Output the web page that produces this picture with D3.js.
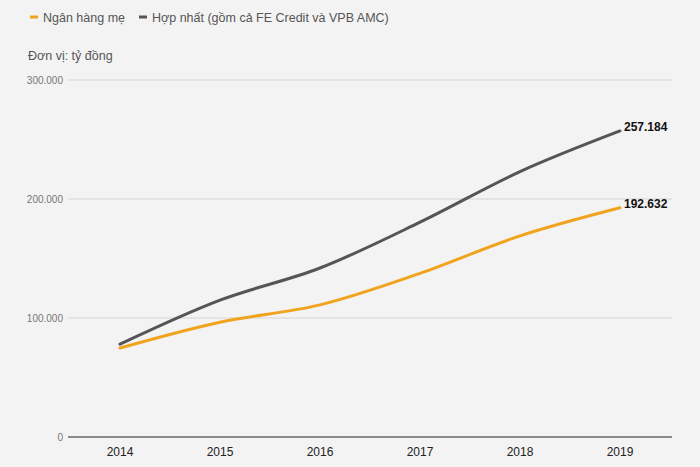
<!DOCTYPE html>
<html>
<head>
<meta charset="utf-8">
<script src="https://cdn.jsdelivr.net/npm/d3@7"></script>
<style>
  body { margin: 0; background: #f3f3f3; }
  svg { display: block; font-family: "Liberation Sans", Arial, sans-serif; }
</style>
</head>
<body>
<svg width="700" height="467"></svg>
<script>
// Dữ liệu
const years = ["2014", "2015", "2016", "2017", "2018", "2019"];
const nganHangMe = [74800, 96500, 111000, 137500, 169000, 192632];
const hopNhat = [78000, 115000, 142000, 180500, 223000, 257184];
const yTicks = [0, 100000, 200000, 300000];
const seriesNames = ["Ngân hàng mẹ", "Hợp nhất (gồm cả FE Credit và VPB AMC)"];
const colors = ["#f0a41e", "#555555"];

const svg = d3.select("svg");

const x = d3.scalePoint()
    .domain(years)
    .range([68, 672])
    .padding(0.52);

const y = d3.scaleLinear()
    .domain([0, 300000])
    .range([437, 80]);

const fmt = v => d3.format(",")(v).replace(/,/g, ".");

// Lưới ngang
svg.append("g")
    .selectAll("line")
    .data(yTicks)
    .join("line")
    .attr("x1", 68)
    .attr("x2", 672)
    .attr("y1", d => y(d))
    .attr("y2", d => y(d))
    .attr("stroke", d => d === 0 ? "#8a8a8a" : "#d6d6d6")
    .attr("stroke-width", d => d === 0 ? 2 : 1.2);

// Nhãn trục y
svg.append("g")
    .selectAll("text")
    .data(yTicks)
    .join("text")
    .attr("x", 63)
    .attr("y", d => y(d) + 4)
    .attr("text-anchor", "end")
    .attr("font-size", 10)
    .attr("fill", "#777")
    .text(d => fmt(d));

// Nhãn trục x
svg.append("g")
    .selectAll("text")
    .data(years)
    .join("text")
    .attr("x", d => x(d))
    .attr("y", 456)
    .attr("text-anchor", "middle")
    .attr("font-size", 12)
    .attr("fill", "#222")
    .text(d => d);

// Đường
const line = d3.line()
    .x((d, i) => x(years[i]))
    .y(d => y(d))
    .curve(d3.curveMonotoneX);

[nganHangMe, hopNhat].forEach((vals, k) => {
    svg.append("path")
        .datum(vals)
        .attr("fill", "none")
        .attr("stroke", colors[k])
        .attr("stroke-width", 3)
        .attr("stroke-linecap", "round")
        .attr("d", line);

    svg.append("text")
        .attr("x", x(years[years.length - 1]) + 4)
        .attr("y", y(vals[vals.length - 1]))
        .attr("font-size", 12)
        .attr("font-weight", "bold")
        .attr("fill", "#111")
        .text(fmt(vals[vals.length - 1]));
});

// Chú giải
const legendX = [30, 139];
seriesNames.forEach((name, k) => {
    svg.append("line")
        .attr("x1", legendX[k])
        .attr("x2", legendX[k] + 8)
        .attr("y1", 17)
        .attr("y2", 17)
        .attr("stroke", colors[k])
        .attr("stroke-width", 3);
    svg.append("text")
        .attr("x", legendX[k] + 13)
        .attr("y", 21.5)
        .attr("font-size", 12.5)
        .attr("fill", "#555")
        .text(name);
});

svg.append("text")
    .attr("x", 28)
    .attr("y", 60)
    .attr("font-size", 12.5)
    .attr("fill", "#555")
    .text("Đơn vị: tỷ đồng");
</script>
</body>
</html>
